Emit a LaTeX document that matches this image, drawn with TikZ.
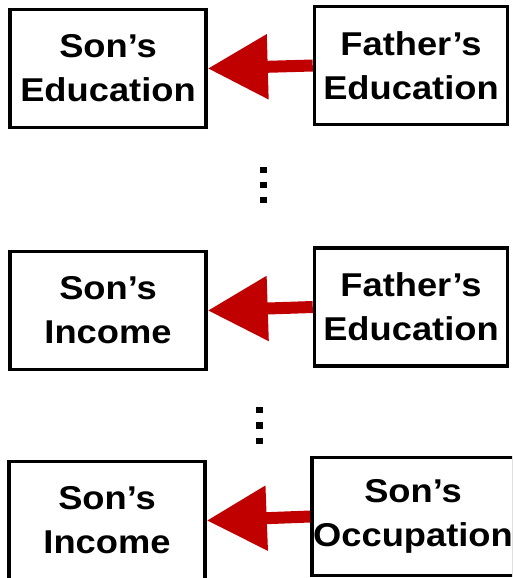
\documentclass[tikz,border=0pt]{standalone}
\usepackage{fontspec}
\newfontfamily\boxfont{Liberation Sans}[FakeStretch=1.1]
\usetikzlibrary{arrows.meta}
\definecolor{arrowred}{RGB}{192,0,0}
\begin{document}
\begin{tikzpicture}[x=1pt, y=-1pt, every node/.style={draw, line width=3.5pt, align=center,
        font=\boxfont\bfseries\fontsize{33}{44}\selectfont, minimum width=196pt, minimum height=118pt}]
    	\tikzstyle{flow}=[draw=arrowred, line width=12pt, -{Triangle[length=60pt, width=62pt]}]
    	\tikzstyle{dotmark}=[fill=black]
	\useasboundingbox (0,0) rectangle (512,578);
	\begin{scope}
	\clip (0,0) rectangle (512,578);
    	\node (sonEdu) at (108,68.5) {Son’s\\Education};
    	\node[minimum width=193pt] (fatEduA) at (411,65.5) {Father’s\\Education};
    	\node (sonIncA) at (108,310.5) {Son’s\\Income};
    	\node[minimum width=193pt] (fatEduB) at (411,307) {Father’s\\Education};
    	\node (sonIncB) at (107,520.5) {Son’s\\Income};
    	\node[minimum width=202pt, inner xsep=0pt] (sonOcc) at (413,516.5) {Son’s\\Occupation};
	\end{scope}
	\draw[flow] (fatEduA.west) -- (sonEdu.east);
	\draw[flow] (fatEduB.west) -- (sonIncA.east);
	\draw[flow] (sonOcc.west) -- (sonIncB.east);
	% vertical dots
	\foreach \y in {170,185,200}
	    	\fill[dotmark] (260,\y-3.3) rectangle ++(6.7,6.7);
	\foreach \y in {410,425.5,441}
	    	\fill[dotmark] (256,\y-3.3) rectangle ++(6.7,6.7);
\end{tikzpicture}
\end{document}
